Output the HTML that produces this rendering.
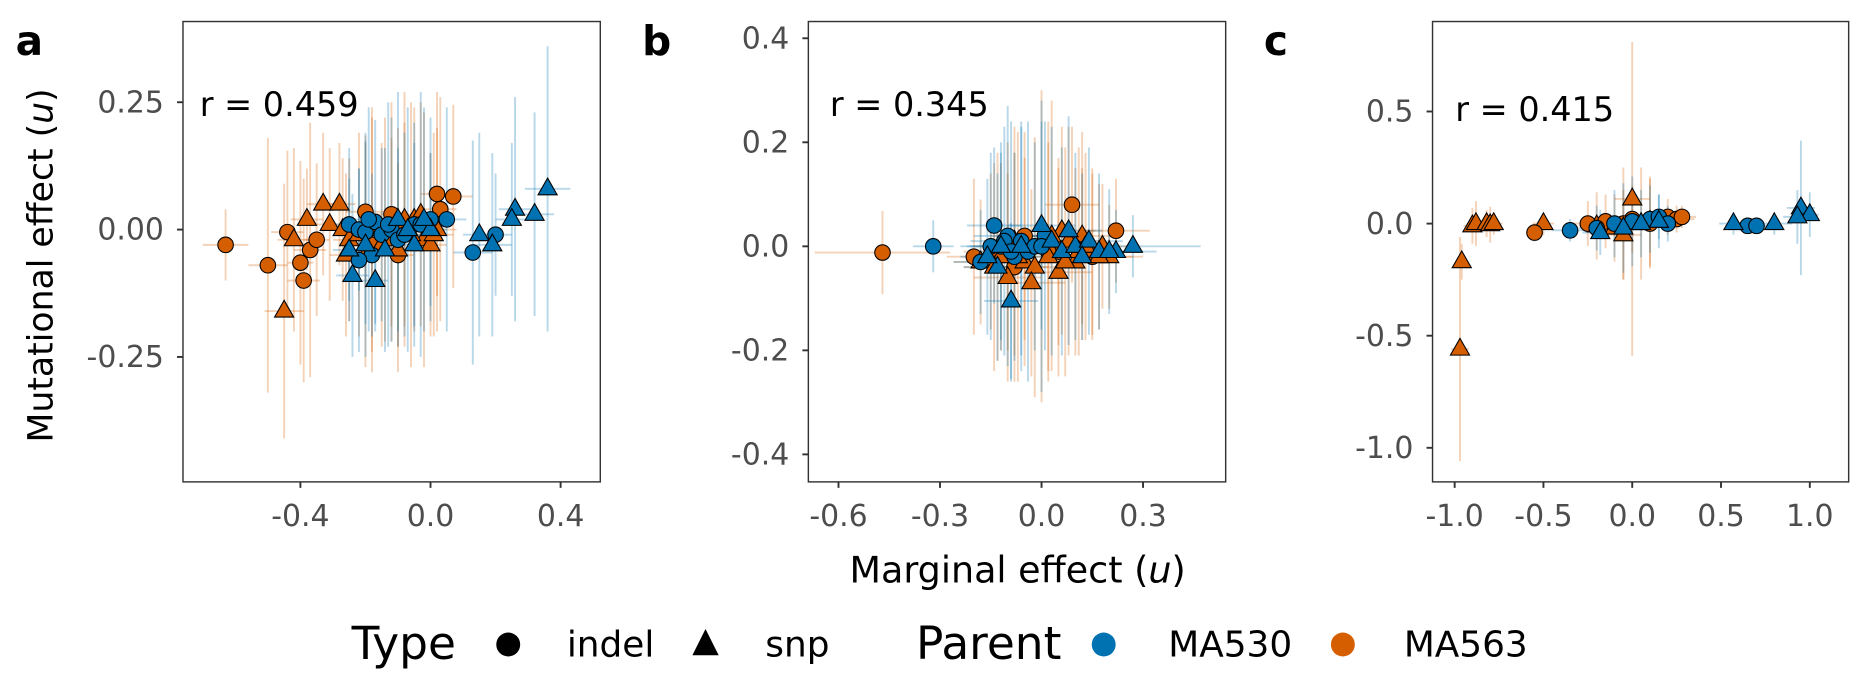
<!DOCTYPE html>
<html><head><meta charset="utf-8"><style>
html,body{margin:0;padding:0;background:#fff;}
svg{display:block;font-family:"DejaVu Sans","Liberation Sans",sans-serif;}
</style></head><body>
<svg id="fig" width="1875" height="675" viewBox="0 0 1568 564.5" xmlns="http://www.w3.org/2000/svg">
<g id="layer-err"></g>
<g id="layer-pts"></g>
<g id="layer-axes"></g>
<text x="13" y="46" font-size="34" font-weight="bold">a</text>
<text x="537" y="46" font-size="34" font-weight="bold">b</text>
<text x="1057" y="46" font-size="34" font-weight="bold">c</text>
<text transform="translate(44,222) rotate(-90)" text-anchor="middle" font-size="29">Mutational effect (<tspan font-style="italic">u</tspan>)</text>
<text x="851" y="487" text-anchor="middle" font-size="30.5">Marginal effect (<tspan font-style="italic">u</tspan>)</text>
<g font-size="30">
<text x="294" y="551" font-size="38">Type</text>
<circle cx="425" cy="539" r="10" fill="#000"/>
<text x="474" y="549">indel</text>
<polygon points="590,526 601,548 579,548" fill="#000"/>
<text x="640" y="549">snp</text>
<text x="766" y="551" font-size="38">Parent</text>
<circle cx="923" cy="539" r="10" fill="#0072B2"/>
<text x="977" y="549">MA530</text>
<circle cx="1123" cy="539" r="10" fill="#D55E00"/>
<text x="1174" y="549">MA563</text>
</g>
</svg>
<script>
// shape: 0 = indel (circle), 1 = snp (triangle); parent: 0 = MA530, 1 = MA563
const aX=[-0.63,-0.5,-0.44,-0.39,-0.4,-0.37,-0.35,0.02,0.07,0.03,-0.2,-0.12,-0.08,-0.18,-0.1,
 -0.33,-0.28,-0.38,-0.31,-0.45,-0.42,-0.27,-0.25,-0.15,-0.08,-0.05,-0.12,-0.02,0.0,-0.2,0.02,
 -0.22,-0.14,-0.1,-0.06,-0.03,0.01,-0.26,-0.18,
 -0.25,-0.22,-0.2,-0.17,-0.15,-0.12,-0.1,0.13,0.2,-0.18,-0.05,0.05,-0.22,
 -0.19,-0.13,-0.08,-0.03,0.0,
 -0.25,-0.24,-0.17,0.15,0.19,0.26,0.25,0.32,0.36,-0.1,0.0,-0.05,
 -0.2,-0.14,-0.07,-0.02];
const aY=[-0.03,-0.07,-0.005,-0.1,-0.065,-0.04,-0.02,0.07,0.065,0.04,0.035,0.03,0.01,-0.03,-0.05,
 0.05,0.05,0.02,0.01,-0.16,-0.02,0.0,-0.02,-0.03,0.02,0.02,-0.02,-0.02,-0.03,-0.05,0.0,
 -0.01,0.0,-0.04,-0.01,0.03,-0.01,-0.05,0.0,
 0.01,0.0,-0.005,0.015,-0.01,0.0,-0.02,-0.045,-0.01,-0.05,0.01,0.02,-0.06,
 0.02,0.01,-0.01,0.01,0.02,
 -0.04,-0.09,-0.1,-0.01,-0.03,0.04,0.02,0.03,0.08,0.02,0.0,-0.03,
 -0.03,-0.04,0.0,0.02];
const aXe=[0.07,0.06,0.05,0.05,0.04,0.05,0.04,0.05,0.06,0.05,0.06,0.05,0.05,0.06,0.05,
 0.05,0.05,0.05,0.04,0.06,0.05,0.04,0.05,0.05,0.04,0.05,0.05,0.06,0.05,0.05,0.06,
 0.05,0.05,0.06,0.05,0.05,0.06,0.05,0.05,
 0.05,0.04,0.05,0.05,0.04,0.05,0.05,0.06,0.05,0.04,0.05,0.06,0.05,
 0.05,0.05,0.06,0.05,0.06,
 0.05,0.05,0.04,0.05,0.06,0.05,0.05,0.06,0.07,0.05,0.05,0.05,
 0.05,0.05,0.06,0.05];
const aYe=[0.07,0.25,0.16,0.2,0.2,0.25,0.15,0.2,0.18,0.22,0.15,0.22,0.2,0.25,0.18,
 0.14,0.12,0.1,0.15,0.25,0.18,0.14,0.16,0.2,0.25,0.22,0.2,0.25,0.18,0.22,0.2,
 0.2,0.22,0.24,0.26,0.22,0.2,0.16,0.24,
 0.15,0.12,0.18,0.2,0.17,0.22,0.18,0.22,0.12,0.16,0.2,0.22,0.18,
 0.22,0.24,0.2,0.26,0.2,
 0.14,0.16,0.1,0.2,0.18,0.22,0.15,0.2,0.28,0.25,0.15,0.2,
 0.22,0.2,0.24,0.22];
const aShape=[0,0,0,0,0,0,0,0,0,0,0,0,0,0,0, 1,1,1,1,1,1,1,1,1,1,1,1,1,1,1,1, 1,1,1,1,1,1,1,1,
 0,0,0,0,0,0,0,0,0,0,0,0,0, 0,0,0,0,0, 1,1,1,1,1,1,1,1,1,1,1,1, 1,1,1,1];
const aPar=[1,1,1,1,1,1,1,1,1,1,1,1,1,1,1, 1,1,1,1,1,1,1,1,1,1,1,1,1,1,1,1, 1,1,1,1,1,1,1,1,
 0,0,0,0,0,0,0,0,0,0,0,0,0, 0,0,0,0,0, 0,0,0,0,0,0,0,0,0,0,0,0, 0,0,0,0];

const bX=[-0.47,0.09,0.22,-0.2,-0.1,0.05,0.15,-0.05,0.12,-0.13,0.02,-0.08,
 -0.18,-0.15,-0.12,-0.1,-0.08,-0.05,-0.02,0.0,0.02,0.05,0.08,0.1,0.12,0.15,0.18,0.2,-0.03,0.06,
 -0.14,-0.07,0.03,0.07,0.11,0.13,0.17,
 -0.32,-0.14,-0.18,-0.12,-0.1,-0.08,-0.06,-0.04,-0.02,0.01,-0.15,-0.11,-0.09,0.0,
 -0.09,0.27,0.0,-0.13,0.03,0.06,0.1,-0.16,0.22,-0.12,-0.06,0.08,0.14,0.17,0.2,0.12];
const bY=[-0.012,0.08,0.03,-0.02,0.0,-0.01,-0.02,0.02,0.0,-0.02,-0.01,-0.04,
 -0.03,-0.01,-0.02,-0.06,0.01,-0.03,-0.04,0.0,-0.02,-0.05,0.01,-0.03,0.02,-0.01,0.0,-0.02,-0.07,0.03,
 -0.04,-0.02,0.02,-0.03,-0.01,0.0,-0.02,
 0.0,0.04,-0.03,0.0,0.02,-0.02,0.01,-0.01,0.0,0.02,0.0,0.01,-0.01,0.0,
 -0.105,0.0,0.04,-0.04,0.01,-0.01,0.0,-0.02,-0.01,0.0,0.0,0.03,0.01,-0.01,-0.01,-0.02];
const bXe=[0.2,0.08,0.1,0.08,0.1,0.1,0.09,0.1,0.1,0.09,0.1,0.1,
 0.08,0.08,0.09,0.1,0.09,0.1,0.1,0.1,0.1,0.1,0.1,0.1,0.1,0.1,0.1,0.1,0.1,0.1,
 0.09,0.1,0.1,0.1,0.1,0.1,0.1,
 0.06,0.08,0.08,0.09,0.1,0.1,0.1,0.1,0.1,0.1,0.09,0.1,0.1,0.1,
 0.08,0.2,0.1,0.1,0.1,0.1,0.1,0.08,0.12,0.1,0.1,0.1,0.1,0.1,0.1,0.1];
const bYe=[0.08,0.15,0.1,0.15,0.2,0.18,0.16,0.2,0.15,0.2,0.25,0.22,
 0.12,0.15,0.18,0.2,0.22,0.2,0.25,0.3,0.22,0.2,0.22,0.18,0.2,0.16,0.12,0.1,0.18,0.2,
 0.2,0.24,0.26,0.22,0.2,0.18,0.14,
 0.05,0.15,0.1,0.18,0.25,0.2,0.22,0.25,0.2,0.22,0.18,0.22,0.25,0.28,
 0.15,0.06,0.2,0.18,0.22,0.2,0.18,0.15,0.08,0.2,0.24,0.22,0.18,0.15,0.12,0.16];
const bShape=[0,0,0,0,0,0,0,0,0,0,0,0, 1,1,1,1,1,1,1,1,1,1,1,1,1,1,1,1,1,1, 1,1,1,1,1,1,1,
 0,0,0,0,0,0,0,0,0,0,0,0,0,0, 1,1,1,1,1,1,1,1,1,1,1,1,1,1,1,1];
const bPar=[1,1,1,1,1,1,1,1,1,1,1,1, 1,1,1,1,1,1,1,1,1,1,1,1,1,1,1,1,1,1, 1,1,1,1,1,1,1,
 0,0,0,0,0,0,0,0,0,0,0,0,0,0, 0,0,0,0,0,0,0,0,0,0,0,0,0,0,0,0];

const cX=[-0.97,-0.96,-0.9,-0.88,-0.82,-0.8,-0.78,-0.5,0.0,-0.1,-0.05,0.05,0.1,-0.2,
 -0.55,-0.25,-0.15,0.0,0.2,0.25,0.28,0.1,-0.05,
 -0.35,-0.2,-0.1,0.0,0.1,0.15,0.2,0.65,0.7,
 -0.18,-0.05,0.05,0.15,0.57,0.8,0.95,1.0,0.93];
const cY=[-0.56,-0.17,-0.01,0.0,0.0,-0.005,0.0,0.0,0.11,-0.02,-0.05,0.0,0.01,-0.01,
 -0.04,0.0,0.01,0.02,0.03,0.02,0.03,0.0,0.0,
 -0.03,-0.02,0.0,0.01,0.02,0.03,0.0,-0.01,-0.01,
 -0.04,-0.02,0.0,0.01,0.0,0.0,0.07,0.04,0.03];
const cXe=[0.05,0.03,0.05,0.05,0.06,0.05,0.05,0.06,0.1,0.1,0.1,0.1,0.1,0.1,
 0.05,0.1,0.1,0.1,0.1,0.1,0.08,0.1,0.1,
 0.1,0.1,0.1,0.12,0.12,0.12,0.1,0.1,0.1,
 0.1,0.1,0.12,0.12,0.08,0.1,0.08,0.05,0.08];
const cYe=[0.5,0.08,0.08,0.1,0.06,0.08,0.05,0.05,0.7,0.15,0.2,0.25,0.2,0.15,
 0.04,0.1,0.12,0.15,0.08,0.06,0.05,0.2,0.25,
 0.05,0.1,0.15,0.2,0.15,0.1,0.08,0.03,0.03,
 0.1,0.2,0.15,0.12,0.05,0.05,0.3,0.1,0.12];
const cShape=[1,1,1,1,1,1,1,1,1,1,1,1,1,1, 0,0,0,0,0,0,0,0,0, 0,0,0,0,0,0,0,0,0, 1,1,1,1,1,1,1,1,1];
const cPar=[1,1,1,1,1,1,1,1,1,1,1,1,1,1, 1,1,1,1,1,1,1,1,1, 0,0,0,0,0,0,0,0,0, 0,0,0,0,0,0,0,0,0];

const aXTicks=[-0.4,0.0,0.4], aXTickLabels=["-0.4","0.0","0.4"];
const aYTicks=[0.25,0,-0.25], aYTickLabels=["0.25","0.00","-0.25"];
const bXTicks=[-0.6,-0.3,0,0.3], bXTickLabels=["-0.6","-0.3","0.0","0.3"];
const bYTicks=[0.4,0.2,0,-0.2,-0.4], bYTickLabels=["0.4","0.2","0.0","-0.2","-0.4"];
const cXTicks=[-1,-0.5,0,0.5,1], cXTickLabels=["-1.0","-0.5","0.0","0.5","1.0"];
const cYTicks=[0.5,0,-0.5,-1], cYTickLabels=["0.5","0.0","-0.5","-1.0"];
const rLabels=["r = 0.459","r = 0.345","r = 0.415"];

const NS="http://www.w3.org/2000/svg";
const COL=["#0072B2","#D55E00"];
const errL=document.getElementById('layer-err'), ptsL=document.getElementById('layer-pts'), axL=document.getElementById('layer-axes');
function mk(tag,attrs,parent){const e=document.createElementNS(NS,tag);for(const k in attrs)e.setAttribute(k,attrs[k]);parent.appendChild(e);return e;}

const panels=[
 {id:'a',x0:153,x1:502,sx:v=>360+272*v,sy:v=>192-426*v,X:aX,Y:aY,XE:aXe,YE:aYe,S:aShape,P:aPar,xt:aXTicks,xl:aXTickLabels,yt:aYTicks,yl:aYTickLabels,r:rLabels[0],rx:167,ry:97},
 {id:'b',x0:676,x1:1025,sx:v=>871+283*v,sy:v=>206-435*v,X:bX,Y:bY,XE:bXe,YE:bYe,S:bShape,P:bPar,xt:bXTicks,xl:bXTickLabels,yt:bYTicks,yl:bYTickLabels,r:rLabels[1],rx:694,ry:97},
 {id:'c',x0:1198,x1:1546,sx:v=>1365+148.5*v,sy:v=>187-187.5*v,X:cX,Y:cY,XE:cXe,YE:cYe,S:cShape,P:cPar,xt:cXTicks,xl:cXTickLabels,yt:cYTicks,yl:cYTickLabels,r:rLabels[2],rx:1217,ry:101}
];
const y0=18,y1=403;
panels.forEach(p=>{
 const box=mk('rect',{x:p.x0,y:y0,width:p.x1-p.x0,height:y1-y0,fill:'none',stroke:'#333',"stroke-width":1.2},axL);
 
 
 const clip=mk('clipPath',{id:'clip'+p.id},axL);
 mk('rect',{x:p.x0,y:y0,width:p.x1-p.x0,height:y1-y0},clip);
 const eg=mk('g',{'clip-path':'url(#clip'+p.id+')'},errL);
 
 
 const pg=mk('g',{},ptsL);
 
 
 p.X.forEach((xv,i)=>{
  const c=COL[p.P[i]], cx=p.sx(xv), cy=p.sy(p.Y[i]);
  const v=mk('line',{x1:cx,x2:cx,y1:p.sy(p.Y[i]+p.YE[i]),y2:p.sy(p.Y[i]-p.YE[i]),stroke:c,"stroke-opacity":0.28,"stroke-width":1.6},eg);
  
  
  const h=mk('line',{x1:p.sx(xv-p.XE[i]),x2:p.sx(xv+p.XE[i]),y1:cy,y2:cy,stroke:c,"stroke-opacity":0.28,"stroke-width":1.6},eg);
  
  
 });
 p.X.forEach((xv,i)=>{
  const c=COL[p.P[i]], cx=p.sx(xv), cy=p.sy(p.Y[i]);
  let m;
  if(p.S[i]===0){m=mk('circle',{cx:cx,cy:cy,r:6.5,fill:c,stroke:'#000',"stroke-width":0.9},pg);}
  else{m=mk('polygon',{points:`${cx},${cy-9} ${cx+8},${cy+5} ${cx-8},${cy+5}`,fill:c,stroke:'#000',"stroke-width":0.9},pg);}
  
 });
 p.xt.forEach((t,i)=>{
  const x=p.sx(t);
  const tk=mk('line',{x1:x,x2:x,y1:y1,y2:y1+5,stroke:'#333',"stroke-width":1.6},axL);
  
  
  const tl=mk('text',{x:x,y:y1+37,"text-anchor":"middle","font-size":25,fill:'#4d4d4d'},axL);
  tl.textContent=p.xl[i];
  
  
 });
 p.yt.forEach((t,i)=>{
  const y=p.sy(t);
  const tk=mk('line',{x1:p.x0-5,x2:p.x0,y1:y,y2:y,stroke:'#333',"stroke-width":1.6},axL);
  
  
  const tl=mk('text',{x:p.x0-16,y:y+8.5,"text-anchor":"end","font-size":25,fill:'#4d4d4d'},axL);
  tl.textContent=p.yl[i];
  
  
 });
 const rt=mk('text',{x:p.rx,y:p.ry,"font-size":28,fill:'#000'},axL);
 rt.textContent=p.r;
 
 
});
</script>
</body></html>
